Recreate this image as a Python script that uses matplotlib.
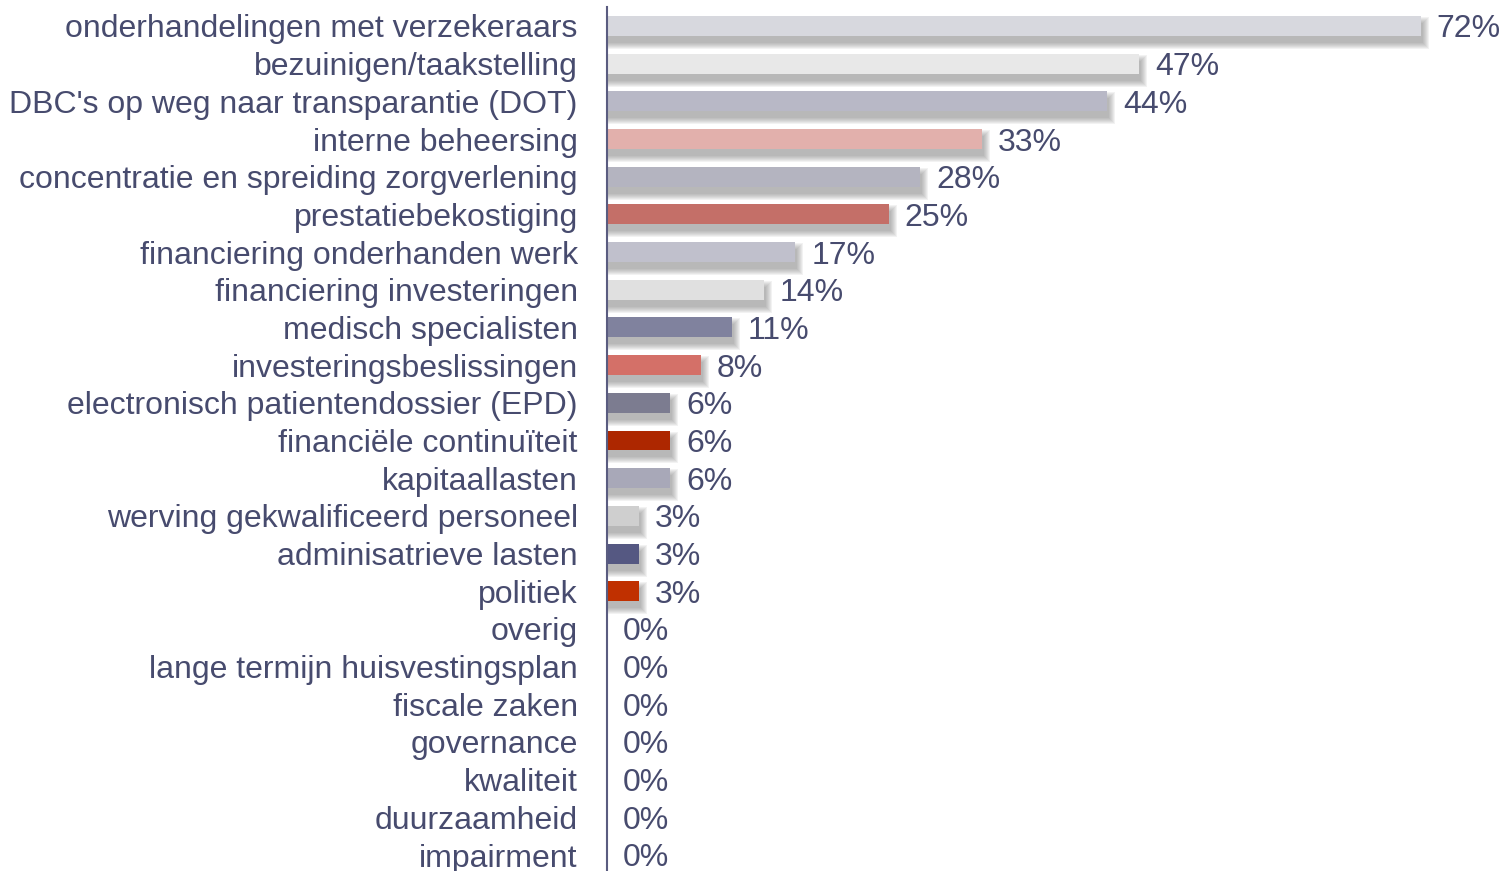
import numpy as np
import matplotlib.pyplot as plt

plt.rcParams['font.family'] = ['Liberation Sans', 'DejaVu Sans']

labels = ['onderhandelingen met verzekeraars', 'bezuinigen/taakstelling',
          "DBC's op weg naar transparantie (DOT)", 'interne beheersing',
          'concentratie en spreiding zorgverlening', 'prestatiebekostiging',
          'financiering onderhanden werk', 'financiering investeringen',
          'medisch specialisten', 'investeringsbeslissingen',
          'electronisch patientendossier (EPD)', 'financiële continuïteit',
          'kapitaallasten', 'werving gekwalificeerd personeel',
          'adminisatrieve lasten', 'politiek', 'overig',
          'lange termijn huisvestingsplan', 'fiscale zaken', 'governance',
          'kwaliteit', 'duurzaamheid', 'impairment']
values = [72.2, 47.2, 44.4, 33.3, 27.8, 25.0, 16.7, 13.9, 11.1, 8.3,
          5.6, 5.6, 5.6, 2.8, 2.8, 2.8, 0, 0, 0, 0, 0, 0, 0]
colors = ['#d7d8de', '#e8e8e8', '#b8b8c6', '#e2b0ac', '#b4b4c0', '#c46f68',
          '#c0c0cc', '#e0e0e0', '#80829e', '#d47068', '#7c7c90', '#ad2700',
          '#a8a8b8', '#cfcfcf', '#555882', '#c03000',
          '#cccccc', '#cccccc', '#cccccc', '#cccccc', '#cccccc', '#cccccc', '#cccccc']

txt = '#474b6e'

fig = plt.figure(figsize=(15.06, 8.71), dpi=100)
ax = fig.add_axes([607 / 1506, -3 / 871, 1 - 607 / 1506, 1 - 4 / 871])

n = len(labels)
y = np.arange(n)
h = 0.53
xmax = 79.77
px_x = xmax / 899   # data units per pixel along x
px_y = 1 / 37.68    # data units per pixel along y

# soft drop shadow
for i in range(n):
    if values[i] == 0:
        continue
    for d in [6, 5, 4, 3, 2, 1, 0]:
        ax.barh(y[i] + 7 * px_y, values[i] + (2 + d) * px_x,
                height=h + 2 * d * px_y, color='#707070', alpha=0.09,
                linewidth=0, zorder=1)

ax.barh(y, values, height=h, color=colors, linewidth=0, zorder=2)

for i in range(n):
    ax.annotate(f'{round(values[i])}%', (values[i], y[i]), xytext=(11.5, -2.5),
                textcoords='offset points', va='center', ha='left',
                fontsize=23, color=txt)

ax.set_xlim(0, xmax)
ax.set_ylim(22.504, -0.504)
ax.set_yticks(y)
ax.set_yticklabels(labels, fontsize=23, color=txt)
ax.tick_params(axis='y', length=0, pad=21)
ax.set_xticks([])
for s in ['top', 'right', 'bottom']:
    ax.spines[s].set_visible(False)
ax.spines['left'].set_color('#5a5c80')
ax.spines['left'].set_linewidth(1.5)

fig.savefig('out.png', dpi=100)
